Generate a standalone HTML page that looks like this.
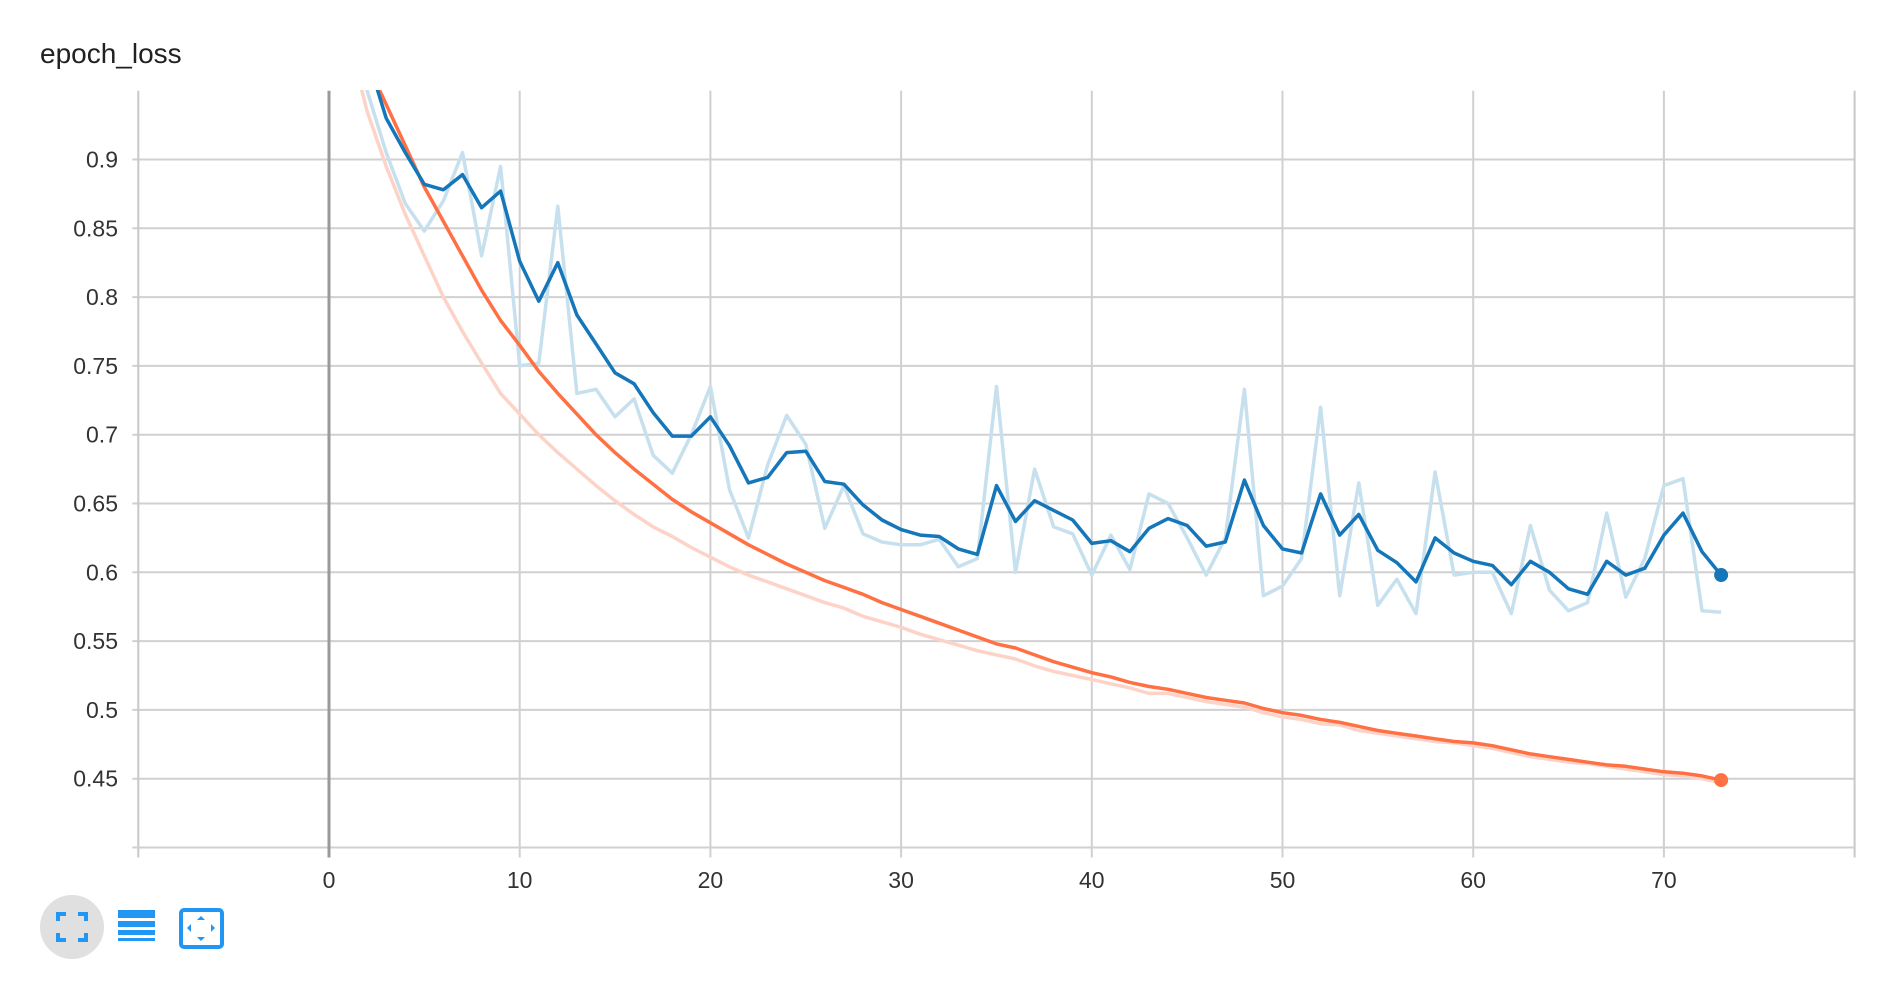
<!DOCTYPE html>
<html><head><meta charset="utf-8"><style>
html,body{margin:0;padding:0;background:#fff;}
body{width:1886px;height:994px;overflow:hidden;position:relative;font-family:"Liberation Sans",sans-serif;}
#title{position:absolute;left:40px;top:38px;font-size:28px;color:#212121;}
svg text{font-family:"Liberation Sans",sans-serif;}
</style></head><body>
<div id="title">epoch_loss</div>
<svg id="chart" width="1886" height="994" style="position:absolute;left:0;top:0">
<defs><clipPath id="plotclip"><rect x="138" y="90" width="1717" height="758"/></clipPath></defs>
<g id="grid"></g><g id="series" clip-path="url(#plotclip)"></g><g id="dots"></g>
</svg>
<svg width="240" height="80" style="position:absolute;left:0;top:892px">
<g>
<circle cx="72" cy="35" r="32" fill="#e0e0e0"/>
<path d="M58 29v-7h8M78 22h8v7M86 41v7h-8M66 48h-8v-7" stroke="#2196f3" stroke-width="4" fill="none"/>
</g>
<g fill="#2196f3">
<rect x="118" y="18" width="37" height="8"/><rect x="118" y="29" width="37" height="6"/><rect x="118" y="38" width="37" height="5"/><rect x="118" y="46" width="37" height="3"/>
</g>
<g>
<rect x="181" y="18" width="41" height="37" rx="3" fill="none" stroke="#2196f3" stroke-width="4"/>
<path d="M201 24l4 4h-8zM201 49l4-4h-8zM187 36l4-4v8zM215 36l-4-4v8z" fill="#2196f3"/>
</g>
</svg>
<script>
const xTicks=[0,10,20,30,40,50,60,70];
const yTicks=[0.45,0.5,0.55,0.6,0.65,0.7,0.75,0.8,0.85,0.9];
const blueRaw=[1.1,1.0,0.95,0.905,0.868,0.848,0.87,0.905,0.83,0.895,0.75,0.752,0.866,0.73,0.733,0.713,0.726,0.685,0.672,0.7,0.735,0.66,0.625,0.678,0.714,0.693,0.632,0.663,0.628,0.622,0.62,0.62,0.624,0.604,0.61,0.735,0.6,0.675,0.633,0.628,0.598,0.627,0.602,0.657,0.65,0.625,0.598,0.625,0.733,0.583,0.59,0.61,0.72,0.583,0.665,0.576,0.595,0.57,0.673,0.598,0.6,0.6,0.57,0.634,0.587,0.572,0.578,0.643,0.582,0.61,0.663,0.668,0.572,0.571];
const blueSmooth=[1.1,1.03,0.975,0.93,0.905,0.882,0.878,0.889,0.865,0.877,0.826,0.797,0.825,0.787,0.766,0.745,0.737,0.716,0.699,0.699,0.713,0.692,0.665,0.669,0.687,0.688,0.666,0.664,0.649,0.638,0.631,0.627,0.626,0.617,0.613,0.663,0.637,0.652,0.645,0.638,0.621,0.623,0.615,0.632,0.639,0.634,0.619,0.622,0.667,0.634,0.617,0.614,0.657,0.627,0.642,0.616,0.607,0.593,0.625,0.614,0.608,0.605,0.591,0.608,0.6,0.588,0.584,0.608,0.598,0.603,0.627,0.643,0.615,0.598];
const orangeRaw=[1.05,0.99,0.935,0.895,0.86,0.83,0.8,0.775,0.752,0.73,0.715,0.7,0.687,0.675,0.663,0.652,0.642,0.633,0.626,0.618,0.611,0.604,0.598,0.593,0.588,0.583,0.578,0.574,0.568,0.564,0.56,0.555,0.551,0.547,0.543,0.54,0.537,0.532,0.528,0.525,0.522,0.519,0.516,0.512,0.512,0.509,0.506,0.504,0.502,0.498,0.495,0.493,0.49,0.489,0.485,0.483,0.481,0.479,0.477,0.476,0.474,0.472,0.469,0.466,0.464,0.462,0.461,0.459,0.457,0.455,0.453,0.452,0.45,0.447];
const orangeSmooth=[1.06,1.01,0.97,0.94,0.91,0.88,0.855,0.83,0.805,0.783,0.765,0.746,0.73,0.715,0.7,0.687,0.675,0.664,0.653,0.644,0.636,0.628,0.62,0.613,0.606,0.6,0.594,0.589,0.584,0.578,0.573,0.568,0.563,0.558,0.553,0.548,0.545,0.54,0.535,0.531,0.527,0.524,0.52,0.517,0.515,0.512,0.509,0.507,0.505,0.501,0.498,0.496,0.493,0.491,0.488,0.485,0.483,0.481,0.479,0.477,0.476,0.474,0.471,0.468,0.466,0.464,0.462,0.46,0.459,0.457,0.455,0.454,0.452,0.449];

const X0=138.3,X1=1854.6,Y0=847.5,Y1=90.7,xmin=-10,xmax=80,ymin=0.4,ymax=0.95;
function sx(v){return X0+(v-xmin)/(xmax-xmin)*(X1-X0);}
function sy(v){return Y0-(v-ymin)/(ymax-ymin)*(Y0-Y1);}
const NS='http://www.w3.org/2000/svg';
function mk(tag,attrs,parent){const e=document.createElementNS(NS,tag);for(const k in attrs)e.setAttribute(k,attrs[k]);parent.appendChild(e);return e;}
const grid=document.getElementById('grid'),ser=document.getElementById('series'),dots=document.getElementById('dots');
yTicks.forEach(v=>{
  const l=mk('line',{x1:X0-6,x2:X1,y1:sy(v),y2:sy(v),stroke:'#d0d0d0','stroke-width':2},grid);
  
  
  const t=mk('text',{x:118,y:sy(v)+8,'text-anchor':'end','font-size':23,fill:'#333'},grid);
  t.textContent=String(v);
  
  
});
[xmin,xmax].forEach(v=>{
  const l=mk('line',{x1:sx(v),x2:sx(v),y1:Y1,y2:Y0+10,stroke:'#c8c8c8','stroke-width':2},grid);
  
  
});
mk('line',{x1:X0-6,x2:X1,y1:Y0,y2:Y0,stroke:'#d0d0d0','stroke-width':2},grid);
xTicks.forEach(v=>{
  const l=mk('line',{x1:sx(v),x2:sx(v),y1:Y1,y2:Y0+10,stroke:v===0?'#9a9a9a':'#d0d0d0','stroke-width':v===0?3:2},grid);
  
  
  const t=mk('text',{x:sx(v),y:888,'text-anchor':'middle','font-size':23,fill:'#333'},grid);
  t.textContent=String(v);
  
  
});
function path(arr){return arr.map((v,i)=>(i?'L':'M')+sx(i).toFixed(1)+' '+sy(v).toFixed(1)).join('');}
const p1=mk('path',{d:path(orangeRaw),stroke:'#fdd3c8',fill:'none','stroke-width':3.5,'stroke-linejoin':'round'},ser);


const p2=mk('path',{d:path(blueRaw),stroke:'#c7e0ee',fill:'none','stroke-width':3.5,'stroke-linejoin':'round'},ser);


const p3=mk('path',{d:path(orangeSmooth),stroke:'#ff7043',fill:'none','stroke-width':3.5,'stroke-linejoin':'round'},ser);


const p4=mk('path',{d:path(blueSmooth),stroke:'#1576b9',fill:'none','stroke-width':3.5,'stroke-linejoin':'round'},ser);


const n=blueSmooth.length-1;
const d1=mk('circle',{cx:sx(n),cy:sy(blueSmooth[n]),r:7,fill:'#1576b9'},dots);


const m=orangeSmooth.length-1;
const d2=mk('circle',{cx:sx(m),cy:sy(orangeSmooth[m]),r:7,fill:'#ff7043'},dots);


</script>
</body></html>
